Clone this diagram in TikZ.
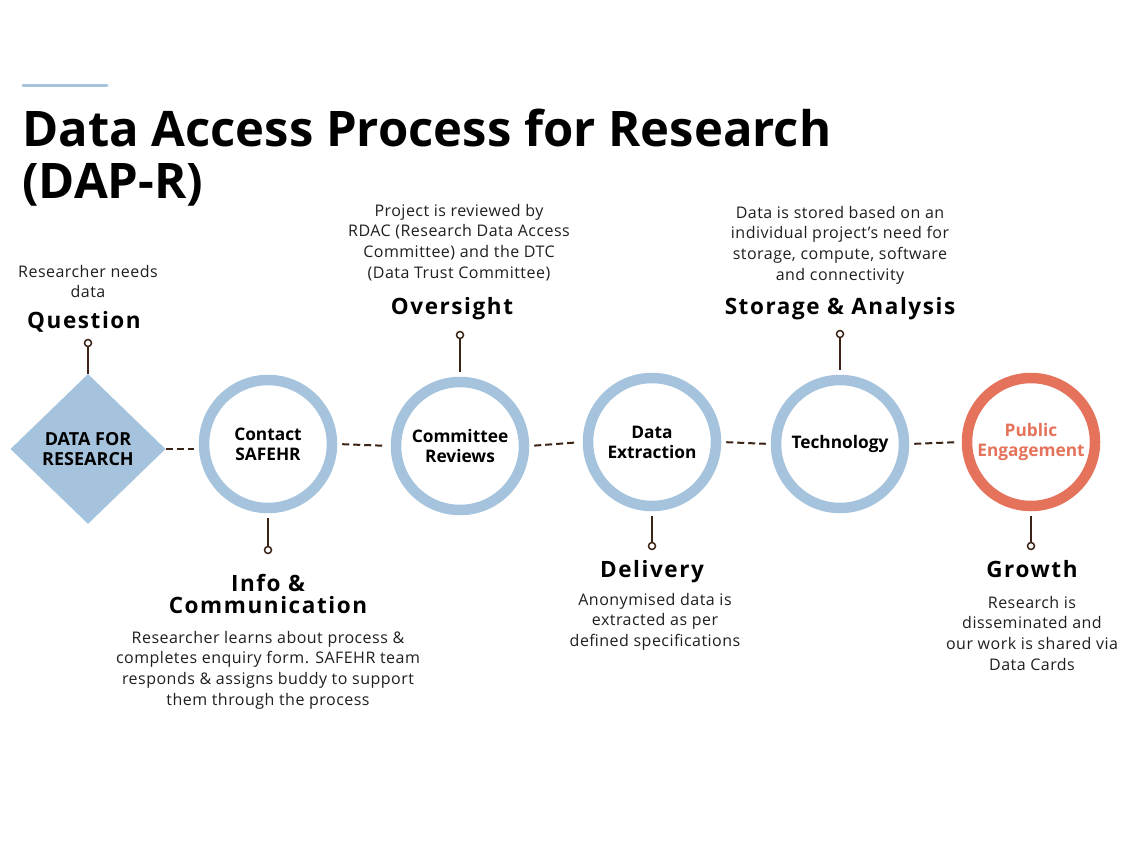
\documentclass[tikz,border=0pt]{standalone}
\usepackage{fontspec}
\setmainfont{Open Sans}
\newfontfamily\headfont{Open Sans}[LetterSpace=7]
\newfontfamily\bodyfont{Open Sans}[LetterSpace=3]
\usetikzlibrary{shapes.geometric}
\definecolor{blueC}{HTML}{A5C3DD}
\definecolor{salmonC}{HTML}{E5735B}
\definecolor{brownC}{HTML}{3B2416}
\definecolor{textC}{HTML}{1F1F1F}
\newcommand{\tsb}{\rule{0pt}{16pt}}
\newcommand{\tsh}{\rule{0pt}{22pt}}
\begin{document}
\begin{tikzpicture}[x=1pt,y=-1pt,
  ring/.style={circle, draw=blueC, fill=white, line width=10.5pt, minimum size=128pt, inner sep=0pt, align=center,
    font=\fontsize{17.3}{20}\selectfont\bfseries, text=black},
  conn/.style={draw=brownC, line width=2pt, dash pattern=on 7pt off 4pt},
  stem/.style={draw=brownC, line width=1.8pt},
  pindot/.style={circle, draw=brownC, fill=white, line width=1.5pt, minimum size=7pt, inner sep=0pt},
  body/.style={anchor=north, align=center, font=\bodyfont\fontsize{16}{20.7}\selectfont, text=textC, inner sep=0pt},
  head/.style={align=center, font=\headfont\bfseries\fontsize{22.5}{22}\selectfont, text=black, inner sep=0pt},
  titlef/.style={anchor=base west, inner sep=0pt, font=\bfseries\fontsize{49}{56}\selectfont, text=black},
]
\useasboundingbox[fill=white] (0,0) rectangle (1134,850);

% title
\draw[blueC, line width=3pt, line cap=round] (23,86) -- (107,86);
\node[titlef] (title1) at (22,147) {Data Access Process for Research};
\node[titlef] (title2) at (22,199) {(DAP-R)};

\coordinate (dc) at (88,449);
\coordinate (c1c) at (268,444);
\coordinate (c2c) at (460,446);
\coordinate (c3c) at (652,442);
\coordinate (c4c) at (840,444);
\coordinate (c5c) at (1031,442);

% main nodes
\node[diamond, fill=blueC, minimum width=155pt, minimum height=150pt, inner sep=0pt, aspect=1,
  align=center, font=\fontsize{18}{20}\selectfont\bfseries, text=black] (d) at (dc) {DATA FOR\\RESEARCH};
\node[ring] (c1) at (c1c) {Contact\\SAFEHR};
\node[ring] (c2) at (c2c) {Committee\\Reviews};
\node[ring] (c3) at (c3c) {Data\\Extraction};
\node[ring] (c4) at (c4c) {Technology};
\node[ring, draw=salmonC, text=salmonC] (c5) at (c5c) {Public\\Engagement};

\draw[conn, shorten >=5pt] (d.east) -- (d.east -| c1.west);
\draw[conn, shorten <=5pt, shorten >=5pt] (c1.east) -- (c2.west);
\draw[conn, shorten <=5pt, shorten >=5pt] (c2.east) -- (c3.west);
\draw[conn, shorten <=5pt, shorten >=5pt] (c3.east) -- (c4.west);
\draw[conn, shorten <=5pt, shorten >=5pt] (c4.east) -- (c5.west);

% pins
\node[pindot] (p0) at (88,343) {};
\node[pindot] (p1) at (268,550) {};
\node[pindot] (p2) at (460,335) {};
\node[pindot] (p3) at (652,546) {};
\node[pindot] (p4) at (840,334) {};
\node[pindot] (p5) at (1031,546) {};
\draw[stem] (d.north) -- (p0);
\draw[stem, shorten <=5pt] (c1.south) -- (p1);
\draw[stem, shorten <=5pt] (c2.north) -- (p2);
\draw[stem, shorten <=5pt] (c3.south) -- (p3);
\draw[stem, shorten <=5pt] (c4.north) -- (p4);
\draw[stem, shorten <=5pt] (c5.south) -- (p5);

% headings
\node[head, anchor=base] (h0) at (84,328) {Question};
\node[head, anchor=base] (h2) at (452,314) {Oversight};
\node[head, anchor=base] (h4) at (840,314) {Storage \& Analysis};
\node[head, anchor=north] (h1) at (268,591-22) {\tsh Info \&\\Communication};
\node[head, anchor=base] (h3) at (652,577) {Delivery};
\node[head, anchor=base] (h5) at (1032,577) {Growth};

% body texts
\node[body] (b0) at (88,277-16) {\tsb Researcher needs\\data};
\node[body] (b2) at (459,216-16) {\tsb Project is reviewed by\\RDAC (Research Data Access\\Committee) and the DTC\\(Data Trust Committee)};
\node[body] (b4) at (840,218-16) {\tsb Data is stored based on an\\individual project’s need for\\storage, compute, software\\and connectivity};
\node[body] (b1) at (268,643-16) {\tsb Researcher learns about process \&\\completes enquiry form. SAFEHR team\\responds \& assigns buddy to support\\them through the process};
\node[body] (b3) at (655,605-16) {\tsb Anonymised data is\\extracted as per\\defined specifications};
\node[body] (b5) at (1032,608-16) {\tsb Research is\\disseminated and\\our work is shared via\\Data Cards};
\end{tikzpicture}
\end{document}
